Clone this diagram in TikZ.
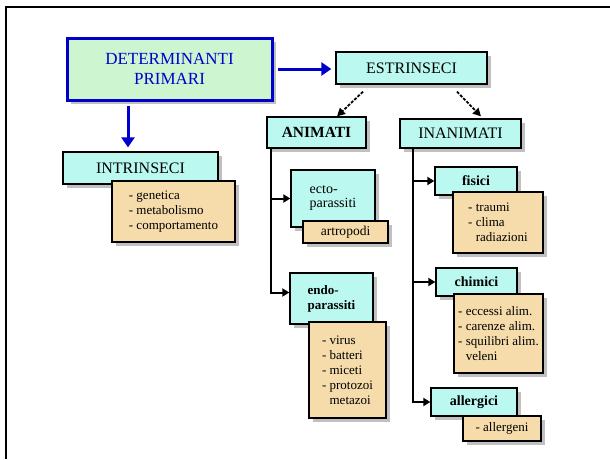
\documentclass[tikz,border=0pt]{standalone}
\usepackage{fontspec}
\setmainfont{Liberation Serif}
\usetikzlibrary{arrows.meta,shadows,calc}
\definecolor{cyanbox}{HTML}{BAF8F0}
\definecolor{tanbox}{HTML}{F5DCAA}
\definecolor{greenbox}{HTML}{CCF5D0}
\definecolor{bluedark}{HTML}{0000CC}
\begin{document}
\begin{tikzpicture}[x=1pt,y=-1pt,
 basebox/.style={draw=black,line width=1.3pt,inner sep=0pt,
   drop shadow={shadow xshift=4pt,shadow yshift=-4pt,opacity=0.35,fill=black!70}},
 headbox/.style={basebox,fill=cyanbox,font=\fontsize{16}{18}\selectfont},
 tanbox/.style={basebox,fill=tanbox,align=left,font=\fontsize{13}{15}\selectfont},
 leafbox/.style={basebox,fill=cyanbox,align=left,font=\bfseries\fontsize{14}{15}\selectfont},
 arr/.style={line width=2pt,-{Triangle[length=7pt,width=8pt]}},
 barr/.style={draw=bluedark,line width=3pt,-{Triangle[length=10pt,width=13pt]}},
 darr/.style={line width=1.8pt,dash pattern=on 3pt off 1.5pt,-{Triangle[length=8pt,width=8pt]}}]

\useasboundingbox (0,0) rectangle (610,459);
\fill[white] (0,0) rectangle (610,459);
\draw[line width=2pt] (6,459) -- (6,7) -- (610,7);

% main
\node[basebox,fill=greenbox,draw=bluedark,line width=3pt,minimum width=205pt,minimum height=62pt,
  align=center,text=bluedark,font=\fontsize{17}{20}\selectfont] (det) at (169.5,69) {DETERMINANTI\\PRIMARI};
\node[headbox,minimum width=151pt,minimum height=32pt] (estr) at (411.5,68) {ESTRINSECI};

% intrinseci
\node[headbox,minimum width=155pt,minimum height=32pt] (intr) at (140.5,168) {INTRINSECI};
\node[tanbox,minimum width=123pt,minimum height=61pt] (intrs) at (173.5,211.5)
  {-~genetica\\-~metabolismo\\-~comportamento};

% animati / inanimati
\node[headbox,font=\bfseries\fontsize{15.5}{17}\selectfont,minimum width=99pt,minimum height=31pt] (anim) at (316.5,132.5) {ANIMATI};
\node[headbox,minimum width=121pt,minimum height=29pt] (inan) at (460.5,133.5) {INANIMATI};

% ecto / endo
\node[basebox,fill=cyanbox,align=left,font=\fontsize{14}{14}\selectfont,minimum width=84pt,minimum height=57pt] (ecto) at (333,198.5) {ecto-\\parassiti};
\node[tanbox,font=\fontsize{13.5}{15}\selectfont,minimum width=85pt,minimum height=22pt] (ectos) at (345.5,232) {artropodi};
\node[leafbox,font=\bfseries\fontsize{13}{15}\selectfont,minimum width=83pt,minimum height=51pt] (endo) at (331.5,298.5) {endo-\\parassiti};
\node[tanbox,minimum width=77pt,minimum height=96pt] (endos) at (347.5,370)
  {-~virus\\-~batteri\\-~miceti\\-~protozoi\\\phantom{-~}metazoi};

% fisici / chimici / allergici
\node[leafbox,minimum width=82pt,minimum height=28pt] (fis) at (476,181) {fisici};
\node[tanbox,minimum width=90pt,minimum height=61pt] (fiss) at (498,222.5)
  {-~traumi\\-~clima\\\phantom{-~}radiazioni};
\node[leafbox,minimum width=81pt,minimum height=28pt] (chim) at (476.5,282) {chimici};
\node[tanbox,minimum width=89pt,minimum height=79pt] (chims) at (498.5,333.5)
  {-~eccessi alim.\\-~carenze alim.\\-~squilibri alim.\\\phantom{-~}veleni};
\node[leafbox,minimum width=86pt,minimum height=28pt] (all) at (474,402) {allergici};
\node[tanbox,minimum width=78pt,minimum height=25pt] (alls) at (502,428.5) {-~allergeni};

% blue arrows
\draw[barr,shorten <=4pt,shorten >=4pt] (det.east) -- (det.east -| estr.west);
\draw[barr,shorten <=4pt,shorten >=4pt] ([xshift=-41.5pt]det.south) -- ([xshift=-12.5pt]intr.north);

% estrinseci arrows
\draw[darr] ([xshift=-48.5pt,yshift=-7pt]estr.south) -- ([xshift=20.5pt]anim.north);
\draw[darr] ([xshift=45.5pt,yshift=-7pt]estr.south) -- ([xshift=20.5pt,yshift=2pt]inan.north);

% animati trunk
\coordinate (ta) at ([xshift=5pt]anim.south west);
\draw[line width=2pt] (ta) |- ([yshift=6pt,xshift=-8pt]endo.west);
\draw[arr] (ta |- ecto.west) -- (ecto.west);
\draw[arr] ([yshift=6pt]ta |- endo.west) -- ([yshift=6pt]endo.west);

% inanimati trunk
\coordinate (ti) at ([xshift=14pt]inan.south west);
\draw[line width=2pt] (ti) |- ([xshift=-8pt]all.west);
\draw[arr] (ti |- fis.west) -- (fis.west);
\draw[arr] (ti |- chim.west) -- (chim.west);
\draw[arr] (ti |- all.west) -- (all.west);
\end{tikzpicture}
\end{document}
